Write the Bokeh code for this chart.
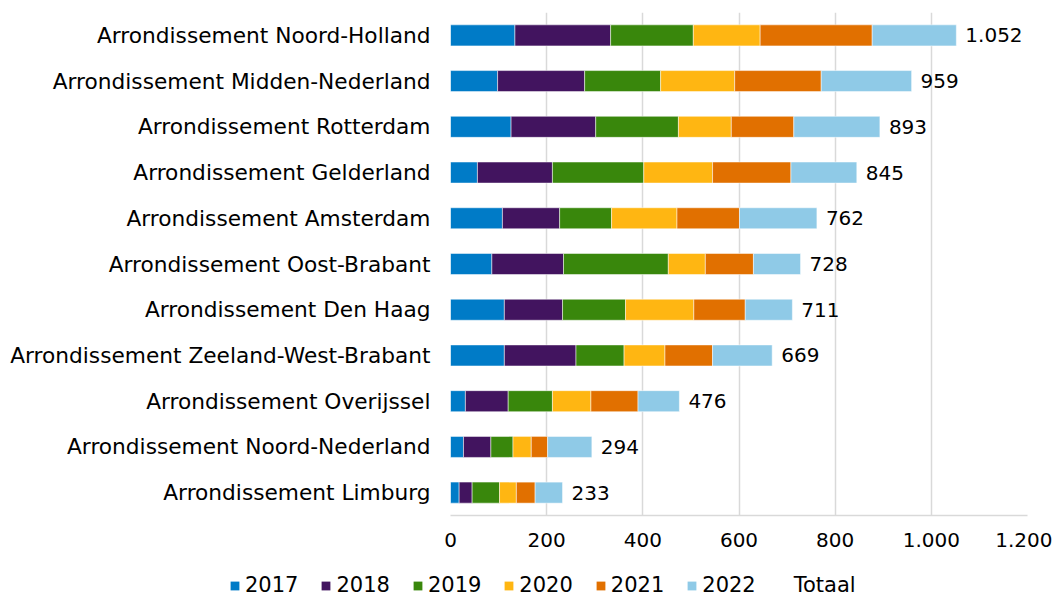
from bokeh.plotting import figure
from bokeh.models import (ColumnDataSource, Range1d, FactorRange, FixedTicker,
                          CustomJSTickFormatter, Legend, LegendItem)
from bokeh.core.properties import value
from bokeh.embed import file_html
from bokeh.resources import INLINE

categories = [
    "Arrondissement Noord-Holland",
    "Arrondissement Midden-Nederland",
    "Arrondissement Rotterdam",
    "Arrondissement Gelderland",
    "Arrondissement Amsterdam",
    "Arrondissement Oost-Brabant",
    "Arrondissement Den Haag",
    "Arrondissement Zeeland-West-Brabant",
    "Arrondissement Overijssel",
    "Arrondissement Noord-Nederland",
    "Arrondissement Limburg",
]
years = ["2017", "2018", "2019", "2020", "2021", "2022"]
v2017 = [134, 98, 126, 56, 108, 86, 112, 112, 31, 27, 18]
v2018 = [199, 181, 176, 156, 119, 149, 121, 149, 89, 57, 27]
v2019 = [172, 158, 172, 190, 108, 218, 131, 100, 92, 46, 57]
v2020 = [139, 154, 110, 143, 136, 77, 142, 85, 80, 38, 35]
v2021 = [233, 180, 130, 163, 130, 100, 107, 99, 98, 34, 39]
v2022 = [175, 188, 179, 137, 161, 98, 98, 124, 86, 92, 57]
totals = [1052, 959, 893, 845, 762, 728, 711, 669, 476, 294, 233]
x_ticks = [0, 200, 400, 600, 800, 1000, 1200]

colors = ["#007BC7", "#42145F", "#39870C", "#FFB612", "#E17000", "#8FCAE7"]
FONT = "DejaVu Sans"


def nl(n):
    return f"{n:,}".replace(",", ".")


data = {"cat": categories, "2017": v2017, "2018": v2018, "2019": v2019,
        "2020": v2020, "2021": v2021, "2022": v2022,
        "total": totals, "label": [nl(t) for t in totals]}
src = ColumnDataSource(data)

p = figure(width=1052, height=572, output_backend="svg", toolbar_location=None,
           y_range=FactorRange(*categories[::-1], range_padding=0),
           x_range=Range1d(0, 1200),
           min_border_left=450, min_border_right=25, min_border_top=12,
           min_border_bottom=57)
p.outline_line_color = None

p.hbar_stack(years, y="cat", height=0.46, color=colors, source=src,
             line_color="white", line_width=0.5)

p.text(x="total", y="cat", text="label", source=src, x_offset=9,
       text_baseline="middle", text_align="left",
       text_font=value(FONT), text_font_size="20px", text_color="#000000")

p.xaxis.ticker = FixedTicker(ticks=x_ticks)
p.xaxis.formatter = CustomJSTickFormatter(
    code='return tick.toString().replace(/\\B(?=(\\d{3})+(?!\\d))/g, ".");')
p.xaxis.axis_line_color = "#d9d9d9"
p.xaxis.axis_line_width = 1.5
p.xaxis.major_tick_line_color = None
p.xaxis.minor_tick_line_color = None
p.xaxis.major_label_standoff = 11
p.xaxis.major_label_text_font = FONT
p.xaxis.major_label_text_font_size = "20px"
p.xaxis.major_label_text_color = "#000000"

p.yaxis.axis_line_color = None
p.yaxis.major_tick_line_color = None
p.yaxis.minor_tick_line_color = None
p.yaxis.major_label_standoff = 14
p.yaxis.major_label_text_font = FONT
p.yaxis.major_label_text_font_size = "21.7px"
p.yaxis.major_label_text_color = "#000000"

p.ygrid.grid_line_color = None
p.xgrid.grid_line_color = "#d9d9d9"
p.xgrid.grid_line_width = 1.5

# legend strip below the chart (separate root, so its frame spans full width)
lg = figure(width=1052, height=25, output_backend="svg", toolbar_location=None,
            x_range=Range1d(0, 1), y_range=Range1d(0, 1),
            x_axis_location=None, y_axis_location=None,
            min_border=0, min_border_left=0, min_border_right=0,
            min_border_top=0, min_border_bottom=0)
lg.outline_line_color = None
lg.grid.grid_line_color = None
lg.background_fill_color = "white"
lg.border_fill_color = "white"
items = []
for y, c in zip(years, colors):
    # one point far outside the visible range so the swatch has a value to draw
    r = lg.hbar(y=[-100], left=[0.4], right=[0.5], height=0.5,
                fill_color=c, line_color=None)
    items.append(LegendItem(label=y, renderers=[r]))
r_tot = lg.hbar(y=[-100], left=[0.4], right=[0.5], height=0.5,
                fill_alpha=0, line_color=None)
items.append(LegendItem(label="Totaal", renderers=[r_tot]))
legend = Legend(items=items, orientation="horizontal", location=(229, 0),
                glyph_width=11, glyph_height=11, label_standoff=5, spacing=22,
                padding=0, margin=0, border_line_color=None,
                background_fill_alpha=0, label_height=21,
                label_text_font=FONT, label_text_font_size="21px",
                label_text_color="#000000")
lg.add_layout(legend, "center")

open("out.html", "w").write(file_html([p, lg], INLINE))
